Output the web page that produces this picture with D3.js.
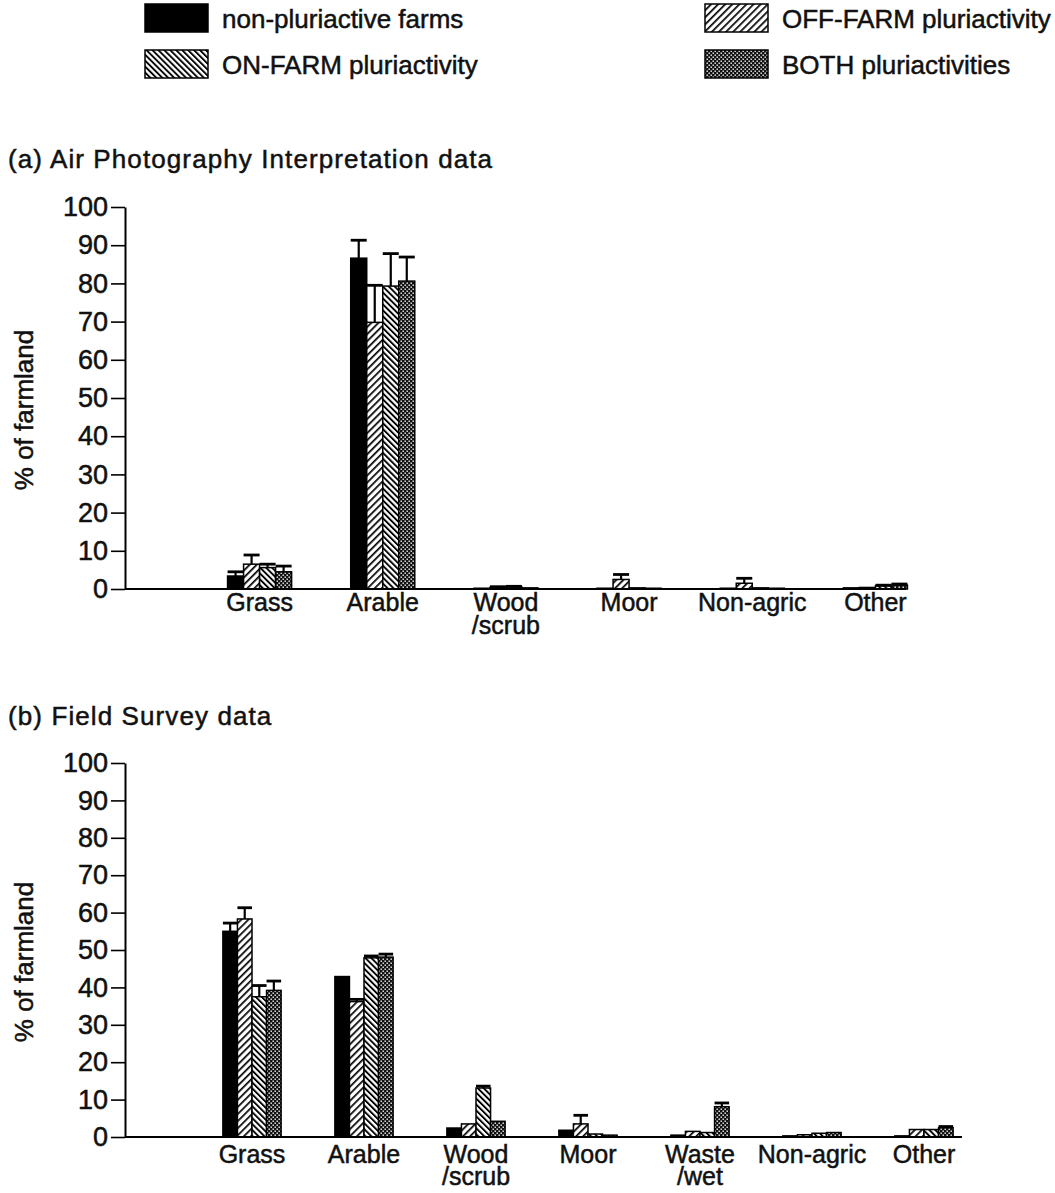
<!DOCTYPE html>
<html>
<head>
<meta charset="utf-8">
<script src="https://cdn.jsdelivr.net/npm/d3@7"></script>
<style>
  html, body { margin: 0; padding: 0; background: #fff; }
  svg text { font-family: "Liberation Sans", Arial, Helvetica, sans-serif; fill: #111; stroke: #111; stroke-width: 0.5px; }
</style>
</head>
<body>
<svg id="chart" width="1055" height="1193"></svg>
<script>
// Farm types, in the order their bars are drawn within each group
const series = ["non-pluriactive farms", "OFF-FARM pluriactivity", "ON-FARM pluriactivity", "BOTH pluriactivities"];
const seriesPattern = ["solid", "offHatch", "onHatch", "both"];

// Legend layout: left column then right column
const legendOrder = ["non-pluriactive farms", "ON-FARM pluriactivity", "OFF-FARM pluriactivity", "BOTH pluriactivities"];

// (a) Air Photography Interpretation data
const categoriesA = ["Grass", "Arable", "Wood /scrub", "Moor", "Non-agric", "Other"];
const valuesA = [
  [3.4, 6.5, 5.6, 4.5],
  [86.6, 69.8, 79.3, 80.6],
  [0.2, 0.4, 0.5, 0.3],
  [0.2, 2.5, 0.3, 0.2],
  [0.2, 1.5, 0.3, 0.2],
  [0.3, 0.4, 0.8, 1.0]
];
const errorsA = [
  [1.1, 2.4, 0.9, 1.5],
  [4.7, 9.7, 8.5, 6.3],
  [0, 0.2, 0.2, 0],
  [0, 1.3, 0, 0],
  [0, 1.3, 0, 0],
  [0, 0, 0.2, 0.3]
];

// (b) Field Survey data
const categoriesB = ["Grass", "Arable", "Wood /scrub", "Moor", "Waste /wet", "Non-agric", "Other"];
const valuesB = [
  [55.0, 58.3, 37.5, 39.2],
  [42.9, 36.2, 47.9, 48.1],
  [2.4, 3.5, 13.1, 4.2],
  [1.8, 3.5, 0.8, 0.5],
  [0.5, 1.5, 1.2, 8.1],
  [0.3, 0.6, 1.0, 1.2],
  [0.3, 2.0, 2.0, 2.5]
];
const errorsB = [
  [2.2, 3.0, 3.0, 2.5],
  [0, 0.6, 0.5, 0.8],
  [0, 0, 0.5, 0],
  [0, 2.3, 0, 0],
  [0, 0, 0, 1.0],
  [0, 0, 0, 0],
  [0, 0, 0, 0.3]
];

const yTicks = [0, 10, 20, 30, 40, 50, 60, 70, 80, 90, 100];
const yLabel = "% of farmland";

const svg = d3.select("#chart");
const defs = svg.append("defs");

// Hatch and stipple fills
function hatch(id, angle, size, lineW) {
  const p = defs.append("pattern")
    .attr("id", id).attr("patternUnits", "userSpaceOnUse")
    .attr("width", size).attr("height", size)
    .attr("patternTransform", `rotate(${angle})`);
  p.append("rect").attr("width", size).attr("height", size).attr("fill", "#fff");
  p.append("rect").attr("width", lineW).attr("height", size).attr("fill", "#000");
}
hatch("offHatch", 45, 5, 1.7);
hatch("onHatch", -45, 4.2, 1.9);
const both = defs.append("pattern")
  .attr("id", "both").attr("patternUnits", "userSpaceOnUse")
  .attr("width", 4).attr("height", 4);
both.append("rect").attr("width", 4).attr("height", 4).attr("fill", "#111");
both.append("rect").attr("x", 0.5).attr("y", 0.5).attr("width", 1.4).attr("height", 1.4).attr("fill", "#fff");
both.append("rect").attr("x", 2.5).attr("y", 2.5).attr("width", 1.4).attr("height", 1.4).attr("fill", "#fff");

function fillFor(name) {
  const p = seriesPattern[series.indexOf(name)];
  return p === "solid" ? "#000" : `url(#${p})`;
}

// Legend
const legendPos = [[145, 4], [145, 50], [705, 4], [705, 50]];
legendOrder.forEach((name, i) => {
  const [lx, ly] = legendPos[i];
  svg.append("rect").attr("x", lx).attr("y", ly).attr("width", 63).attr("height", 28)
    .attr("fill", fillFor(name)).attr("stroke", "#000").attr("stroke-width", 1.5);
  svg.append("text").attr("x", lx + 77).attr("y", ly + 24)
    .attr("font-size", 26).text(name);
});

function panel(opts) {
  const { title, titleY, categories, values, errors, y0, y1, xRange, baseEnd, labelY, lineGap } = opts;
  const axisX = 125;
  const g = svg.append("g");

  g.append("text").attr("x", 8).attr("y", titleY)
    .attr("font-size", 26).attr("letter-spacing", 1.1).text(title);

  const y = d3.scaleLinear().domain([0, 100]).range([y0, y1]);
  const x = d3.scaleBand().domain(categories).range(xRange).paddingInner(0.48).paddingOuter(0.24);
  const xs = d3.scaleBand().domain(series).range([0, x.bandwidth()]);

  // Bars
  categories.forEach((c, ci) => {
    series.forEach((s, si) => {
      const v = values[ci][si];
      const e = errors[ci][si];
      const bx = x(c) + xs(s);
      const bw = xs.bandwidth();
      g.append("rect")
        .attr("x", bx).attr("y", y(v))
        .attr("width", bw).attr("height", y(0) - y(v))
        .attr("fill", fillFor(s)).attr("stroke", "#000").attr("stroke-width", 1.5);
      if (e > 0) {
        const cx = bx + bw / 2;
        g.append("line").attr("x1", cx).attr("x2", cx).attr("y1", y(v)).attr("y2", y(v + e))
          .attr("stroke", "#000").attr("stroke-width", 2.2);
        g.append("line").attr("x1", bx).attr("x2", bx + bw).attr("y1", y(v + e)).attr("y2", y(v + e))
          .attr("stroke", "#000").attr("stroke-width", 2.8);
      }
    });
  });

  // Baseline
  g.append("line").attr("x1", axisX).attr("x2", baseEnd).attr("y1", y(0)).attr("y2", y(0))
    .attr("stroke", "#000").attr("stroke-width", 2);

  // Y axis
  const ya = g.append("g").attr("transform", `translate(${axisX},0)`)
    .call(d3.axisLeft(y).tickValues(yTicks).tickSize(14).tickSizeOuter(0).tickPadding(3));
  ya.select(".domain").attr("stroke", "#000").attr("stroke-width", 2);
  ya.selectAll(".tick line").attr("stroke", "#000").attr("stroke-width", 1.6);
  ya.selectAll(".tick text").attr("font-size", 27).attr("fill", "#111")
    .attr("font-family", "'Liberation Sans', Arial, sans-serif");

  g.append("text")
    .attr("transform", `translate(33,${(y(0) + y(100)) / 2 + 12}) rotate(-90)`)
    .attr("text-anchor", "middle").attr("font-size", 26).text(yLabel);

  // Category labels, split onto two lines where a space appears
  categories.forEach(c => {
    const cx = x(c) + x.bandwidth() / 2;
    const t = g.append("text").attr("text-anchor", "middle").attr("font-size", 25)
      .attr("x", cx).attr("y", labelY);
    c.split(" ").forEach((part, k) => {
      t.append("tspan").attr("x", cx).attr("dy", k === 0 ? 0 : lineGap).text(part);
    });
  });
}

panel({
  title: "(a) Air Photography Interpretation data", titleY: 168,
  categories: categoriesA, values: valuesA, errors: errorsA,
  y0: 589, y1: 207, xRange: [198, 937], baseEnd: 906, labelY: 611, lineGap: 23
});

panel({
  title: "(b) Field Survey data", titleY: 725,
  categories: categoriesB, values: valuesB, errors: errorsB,
  y0: 1137, y1: 763, xRange: [196, 980], baseEnd: 962, labelY: 1163, lineGap: 22
});
</script>
</body>
</html>
